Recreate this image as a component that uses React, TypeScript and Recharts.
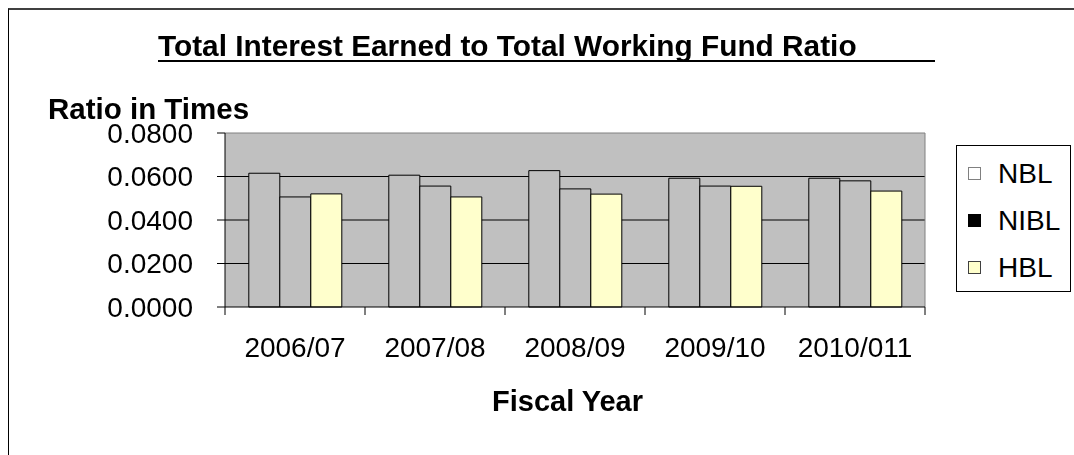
import React from "react";
import { Bar, BarChart, CartesianGrid, ReferenceLine, XAxis, YAxis } from "recharts";

// fiscal years and ratio values
const years = ["2006/07", "2007/08", "2008/09", "2009/10", "2010/011"];
const nbl = [0.0615, 0.0606, 0.0627, 0.0592, 0.0592];
const nibl = [0.0506, 0.0556, 0.0543, 0.0556, 0.058];
const hbl = [0.052, 0.0506, 0.0519, 0.0555, 0.0533];
const yTicks = [0, 0.02, 0.04, 0.06, 0.08];
const gridValues = [0.02, 0.04, 0.06];

const series = [
  { key: "NBL", values: nbl, fill: "#C0C0C0", swatch: "#FFFFFF", swatchBorder: "#808080" },
  { key: "NIBL", values: nibl, fill: "#C0C0C0", swatch: "#000000", swatchBorder: "#000000" },
  { key: "HBL", values: hbl, fill: "#FFFFCC", swatch: "#FFFFCC", swatchBorder: "#404040" },
];

const data = years.map((year, i) => {
  const row: Record<string, string | number> = { year };
  series.forEach((s) => (row[s.key] = s.values[i]));
  return row;
});

const FONT = "'Liberation Sans', Arial, Helvetica, sans-serif";
const X_TICK_SIZE = 8;
const X_TICK_MARGIN = 22;

function XTick(props: any) {
  const { y, payload, index, visibleTicksCount } = props;
  const half = payload.offset ?? 70;
  const axisY = y - X_TICK_SIZE - X_TICK_MARGIN;
  const left = payload.coordinate - half;
  const right = payload.coordinate + half;
  return (
    <g>
      <line x1={left} x2={left} y1={axisY} y2={axisY + X_TICK_SIZE} stroke="#000" />
      {index === visibleTicksCount - 1 && (
        <line x1={right} x2={right} y1={axisY} y2={axisY + X_TICK_SIZE} stroke="#000" />
      )}
      <text
        x={payload.coordinate}
        y={y}
        dy="0.71em"
        textAnchor="middle"
        fill="#000"
        fontSize={28}
        fontFamily={FONT}
      >
        {payload.value}
      </text>
    </g>
  );
}

export default function App() {
  return (
    <div
      style={{
        position: "fixed",
        left: 8,
        top: 8,
        width: 1066,
        height: 447,
        overflow: "hidden",
        fontFamily: FONT,
      }}
    >
      {/* outer frame, only top and left edges are visible */}
      <div
        style={{
          position: "absolute",
          left: 0,
          top: 0,
          width: 1066,
          height: 447,
          borderTop: "2px solid #404040",
          borderLeft: "1px solid #000",
          boxSizing: "border-box",
        }}
      />
      <div
        style={{
          position: "absolute",
          left: 150,
          top: 23,
          fontSize: 29.8,
          fontWeight: "bold",
          lineHeight: 1,
          whiteSpace: "nowrap",
        }}
      >
        Total Interest Earned to Total Working Fund Ratio
      </div>
      <div style={{ position: "absolute", left: 150, top: 52, width: 777, height: 2, background: "#000" }} />
      <div
        style={{
          position: "absolute",
          left: 40,
          top: 86,
          fontSize: 29.5,
          fontWeight: "bold",
          lineHeight: 1,
          whiteSpace: "nowrap",
        }}
      >
        Ratio in Times
      </div>
      <div
        style={{
          position: "absolute",
          left: 484,
          top: 379,
          fontSize: 29,
          fontWeight: "bold",
          lineHeight: 1,
          whiteSpace: "nowrap",
        }}
      >
        Fiscal Year
      </div>

      <div style={{ position: "absolute", left: 0, top: 0 }}>
        <BarChart
          width={1066}
          height={447}
          data={data}
          margin={{ top: 125, right: 149, bottom: 88, left: 0 }}
          barCategoryGap="17%"
          barGap={0}
        >
          <CartesianGrid
            fill="#C0C0C0"
            stroke="#000"
            vertical={false}
            horizontalValues={gridValues}
          />
          <XAxis
            dataKey="year"
            height={60}
            interval={0}
            tickLine={false}
            tickSize={X_TICK_SIZE}
            tickMargin={X_TICK_MARGIN}
            axisLine={{ stroke: "#000" }}
            tick={<XTick />}
          />
          <YAxis
            width={217}
            domain={[0, 0.08]}
            ticks={yTicks}
            interval={0}
            tickFormatter={(v: number) => v.toFixed(4)}
            tickSize={8}
            tickMargin={24}
            axisLine={{ stroke: "#000" }}
            tickLine={{ stroke: "#000" }}
            tick={{ fill: "#000", fontSize: 28, fontFamily: FONT }}
          />
          {/* plot-area border on the top and right */}
          <ReferenceLine y={yTicks[yTicks.length - 1]} stroke="#808080" />
          <ReferenceLine x={years[years.length - 1]} position="end" stroke="#808080" />
          {series.map((s) => (
            <Bar
              key={s.key}
              dataKey={s.key}
              fill={s.fill}
              stroke="#000"
              strokeWidth={1}
              isAnimationActive={false}
            />
          ))}
        </BarChart>
      </div>

      {/* legend */}
      <div
        style={{
          position: "absolute",
          left: 948,
          top: 137,
          width: 115,
          height: 147,
          border: "1px solid #000",
          boxSizing: "border-box",
          background: "#fff",
          paddingTop: 4,
        }}
      >
        {series.map((s) => (
          <div key={s.key} style={{ display: "flex", alignItems: "center", height: 47 }}>
            <div
              style={{
                width: 13,
                height: 13,
                marginLeft: 11,
                marginRight: 17,
                background: s.swatch,
                border: `1px solid ${s.swatchBorder}`,
                boxSizing: "border-box",
              }}
            />
            <span style={{ fontSize: 28, lineHeight: 1 }}>{s.key}</span>
          </div>
        ))}
      </div>
    </div>
  );
}
